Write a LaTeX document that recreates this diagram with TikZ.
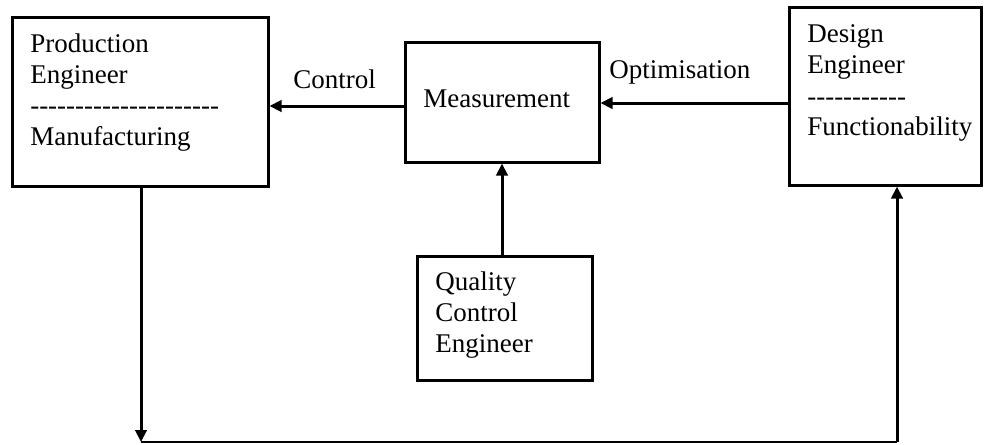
\documentclass[tikz,border=0pt]{standalone}
\usepackage{fontspec}
\setmainfont{Liberation Serif}
\usetikzlibrary{arrows.meta}
\begin{document}
\begin{tikzpicture}[x=0.75pt,y=-0.75pt,
  box/.style={draw,line width=2.25pt,inner sep=0pt},
  txt/.style={anchor=base west,inner sep=0pt,font=\fontsize{20.25}{23.25}\selectfont},
  arr/.style={line width=2.25pt,-{Triangle[length=9pt,width=8.5pt]}},
  thinline/.style={line width=1.1pt}
]
\useasboundingbox (0,0) rectangle (984,444);

% boxes
\node[box,minimum width=192pt,minimum height=126.75pt] (prod) at (140,101.5) {};
\node[box,minimum width=145.5pt,minimum height=90pt] (meas) at (502,102) {};
\node[box,minimum width=144pt,minimum height=133.5pt] (des) at (885,96) {};
\node[box,minimum width=131.25pt,minimum height=93pt] (qc) at (504.5,318) {};

% texts
\node[txt] (p1) at (30,52) {Production};
\node[txt] (p2) at (30,83) {Engineer};
\node[txt] (p3) at (30,114) {-{}-{}-{}-{}-{}-{}-{}-{}-{}-{}-{}-{}-{}-{}-{}-{}-{}-{}-{}-{}-};
\node[txt] (p4) at (30,145) {Manufacturing};

\node[txt] (ctl) at (293,88) {Control};
\node[txt] (m1) at (423,107) {Measurement};
\node[txt] (opt) at (609,78) {Optimisation};

\node[txt] (d1) at (807,42) {Design};
\node[txt] (d2) at (807,73) {Engineer};
\node[txt] (d3) at (807,105) {-{}-{}-{}-{}-{}-{}-{}-{}-{}-{}-};
\node[txt] (d4) at (807,135) {Functionability};

\node[txt] (q1) at (435,290) {Quality};
\node[txt] (q2) at (435,321) {Control};
\node[txt] (q3) at (435,352) {Engineer};

% connectors
\coordinate (mw) at ([yshift=-3pt]meas.west);
\coordinate (dw) at ([yshift=-5.25pt]des.west);
\draw[arr] (mw) -- (prod.east |- mw);
\draw[arr] (dw) -- (meas.east |- dw);
\draw[arr] (qc.north -| meas.south) -- (meas.south);

\coordinate (bl) at (141,442);
\coordinate (br) at (897,442);
\draw[arr] (prod.south -| bl) -- (bl);
\draw[thinline] (bl) -- (br);
\draw[arr] (br) -- (br |- des.south);
\end{tikzpicture}
\end{document}
